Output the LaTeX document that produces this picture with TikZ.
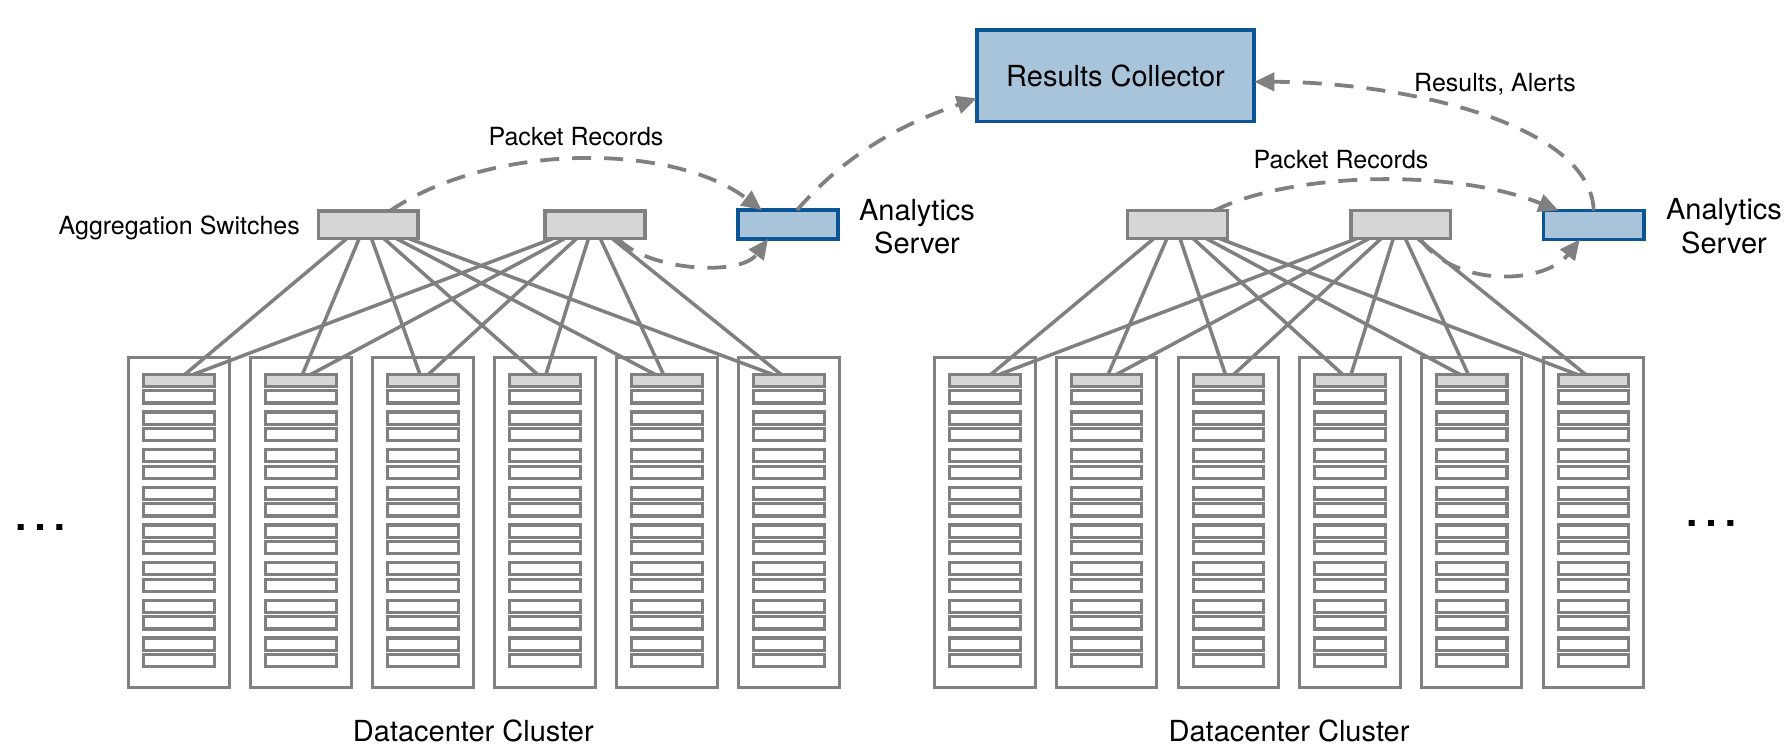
\documentclass[tikz,border=0pt]{standalone}
\usepackage{fontspec}
\setmainfont{TeX Gyre Heros}
\usetikzlibrary{arrows.meta,calc}
\definecolor{lg}{HTML}{808080}
\definecolor{swfill}{HTML}{D6D6D6}
\definecolor{bfill}{HTML}{A8C4DA}
\definecolor{bdraw}{HTML}{0B5597}
\begin{document}
\begin{tikzpicture}[x=1pt,y=-1pt,
  rack/.style={draw=lg, line width=3pt, fill=white, minimum width=100.3pt, minimum height=330.3pt, inner sep=0pt, outer sep=0pt},
  slot/.style={draw=lg, line width=3.2pt, fill=white, minimum width=70.4pt, minimum height=12.1pt, inner sep=0pt, outer sep=0pt},
  tor/.style={slot, fill=swfill},
  agg/.style={draw=lg, line width=3.5pt, fill=swfill, minimum width=99.8pt, minimum height=27.8pt, inner sep=0pt, outer sep=0pt},
  ana/.style={draw=bdraw, line width=3.6pt, fill=bfill, minimum width=100.4pt, minimum height=28.9pt, inner sep=0pt, outer sep=0pt},
  coll/.style={draw=bdraw, line width=3.8pt, fill=bfill, minimum width=277.5pt, minimum height=91.5pt, inner sep=0pt, outer sep=0pt, font=\fontsize{29}{34}\selectfont},
  link/.style={draw=lg, line width=3.5pt},
  flow/.style={draw=lg, line width=3.8pt, dash pattern=on 19pt off 13pt, -{Triangle[length=20pt,width=18pt]}},
  big/.style={inner sep=0pt, font=\fontsize{29}{34}\selectfont},
  small/.style={inner sep=0pt, font=\fontsize{25}{30}\selectfont},
  dots/.style={inner sep=0pt, font=\fontsize{58}{58}\selectfont}
]
\useasboundingbox (0,0) rectangle (1785,747);
\fill[white] (0,0) rectangle (1785,747);

% ---------- racks, left cluster ----------
\foreach \k in {0,...,5}{
  \pgfmathsetmacro{\xa}{178.95+122*\k}
  \node[rack] (rL\k) at (\xa,522.7) {};
  \foreach \j in {0,...,7}{
    \pgfmathsetmacro{\ya}{380.4+37.67*\j}
    \pgfmathsetmacro{\yb}{396.9+37.67*\j}
    \ifnum\j=0
      \node[tor] (swL\k) at (\xa,\ya) {};
    \else
      \node[slot] (saL\k\j) at (\xa,\ya) {};
    \fi
    \node[slot] (sbL\k\j) at (\xa,\yb) {};
  }
}
% ---------- racks, right cluster ----------
\foreach \k in {0,...,5}{
  \pgfmathsetmacro{\xa}{984.95+121.7*\k}
  \node[rack] (rR\k) at (\xa,522.7) {};
  \foreach \j in {0,...,7}{
    \pgfmathsetmacro{\ya}{380.4+37.67*\j}
    \pgfmathsetmacro{\yb}{396.9+37.67*\j}
    \ifnum\j=0
      \node[tor] (swR\k) at (\xa,\ya) {};
    \else
      \node[slot] (saR\k\j) at (\xa,\ya) {};
    \fi
    \node[slot] (sbR\k\j) at (\xa,\yb) {};
  }
}

% ---------- aggregation switches ----------
\node[agg] (agg1) at (368.3,224.8) {};
\node[agg] (agg2) at (595,224.8) {};
\node[agg] (agg3) at (1177.5,224.5) {};
\node[agg] (agg4) at (1400.8,224.5) {};

% ---------- links ----------
\foreach \k in {0,...,5}{
  \pgfmathsetmacro{\sa}{-21.7+12.5*\k}
  \pgfmathsetmacro{\sb}{-42.6+12*\k}
  \pgfmathsetmacro{\ra}{-23.5+13*\k}
  \pgfmathsetmacro{\rb}{-43.5+12*\k}
  \pgfmathsetmacro{\ea}{6-4.5*\k}
  \pgfmathsetmacro{\eb}{14.5-4.5*\k}
  \draw[link] ([xshift=\sa pt]agg1.south) -- ([xshift=\ea pt]swL\k.north);
  \draw[link] ([xshift=\sb pt]agg2.south) -- ([xshift=\eb pt]swL\k.north);
  \draw[link] ([xshift=\ra pt]agg3.south) -- ([xshift=\ea pt]swR\k.north);
  \draw[link] ([xshift=\rb pt]agg4.south) -- ([xshift=\eb pt]swR\k.north);
}

% ---------- analytics servers and collector ----------
\node[ana] (asL) at (788,224.5) {};
\node[ana] (asR) at (1593.7,225) {};
\node[coll] (rc) at (1115.5,75.8) {Results Collector};

% ---------- data flows ----------
\draw[flow] ([xshift=21.7pt]agg1.north) .. controls +(100,-68) and +(-90,-68) .. ([xshift=24pt]asL.north west);
\draw[flow] ([xshift=23pt]agg2.south) .. controls +(30,32) and +(-28,38) .. ([xshift=-20pt]asL.south);
\draw[flow] ([xshift=9pt]asL.north) .. controls +(50,-57) and +(-75,26) .. ([yshift=-22.5pt]rc.west);
\draw[flow] ([xshift=37pt]agg3.north) .. controls +(75,-38) and +(-107,-43) .. ([xshift=15pt]asR.north west);
\draw[flow] ([xshift=19pt]agg4.south) .. controls +(35,50) and +(-35,45) .. ([xshift=-14pt]asR.south);
\draw[flow] (asR.north) .. controls +(-3,-88) and +(145,0) .. ([yshift=-6pt]rc.east);

% ---------- labels ----------
\node[small, anchor=base east] (aggtxt) at (300,234.3) {Aggregation Switches};
\node[small, anchor=base] (prL) at (576,145) {Packet Records};
\node[small, anchor=base] (prR) at (1341,168.3) {Packet Records};
\node[small, anchor=base] (ra) at (1495,91.7) {Results, Alerts};
\node[big, anchor=base] (atL1) at (917,220) {Analytics};
\node[big, anchor=base] (atL2) at (917,253.3) {Server};
\node[big, anchor=base] (atR1) at (1724,219.5) {Analytics};
\node[big, anchor=base] (atR2) at (1724,253) {Server};
\node[big, anchor=base] (dcL) at (473.3,741.7) {Datacenter Cluster};
\node[big, anchor=base] (dcR) at (1289,741.7) {Datacenter Cluster};
\node[dots, anchor=base] (dotL) at (40.7,530.3) {…};
\node[dots, anchor=base] (dotR) at (1711.3,526.7) {…};
\end{tikzpicture}
\end{document}
